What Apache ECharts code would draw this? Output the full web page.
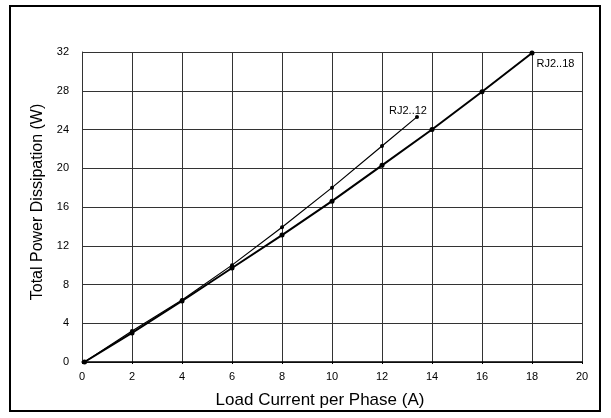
<!DOCTYPE html>
<html><head><meta charset="utf-8">
<script src="https://cdn.jsdelivr.net/npm/echarts@6/dist/echarts.min.js"></script>
<style>html,body{margin:0;padding:0;background:#fff}#c{width:611px;height:418px}</style>
</head><body><div id="c"></div>
<script>
const xTicks = [0,2,4,6,8,10,12,14,16,18,20];
const yTicks = [0,4,8,12,16,20,24,28,32];
const rj12X = [0.1, 2, 4, 6, 8, 10, 12, 13.4];
const rj12Y = [0, 3.2, 6.4, 10.0, 13.9, 18.0, 22.3, 25.3];
const rj18X = [0.1, 2, 4, 6, 8, 10, 12, 14, 16, 18];
const rj18Y = [0, 3.0, 6.3, 9.7, 13.1, 16.6, 20.3, 24.0, 27.9, 31.9];
const names = ['RJ2..12', 'RJ2..18'];

function mk(xs, ys, name, lbl){
  return xs.map((x,i)=>{
    const d = {value:[x, ys[i]]};
    if(i===xs.length-1){ d.label = Object.assign({show:true, formatter:name, color:'#000', fontSize:11, fontFamily:'Liberation Sans'}, lbl); }
    return d;
  });
}
const font = 'Liberation Sans';
const chart = echarts.init(document.getElementById('c'), null, {renderer:'canvas'});
chart.setOption({
  animation:false,
  backgroundColor:'#fff',
  graphic:[{type:'rect', shape:{x:10,y:6,width:590,height:405}, style:{fill:'none', stroke:'#000', lineWidth:2}, silent:true}],
  grid:{left:82, right:29, top:52, bottom:56},
  xAxis:{type:'value', min:0, max:20, interval:2,
    name:'Load Current per Phase (A)', nameLocation:'middle', nameGap:30,
    nameTextStyle:{fontFamily:font, fontSize:17, color:'#000', padding:[0,24,0,0]},
    axisLine:{show:true, lineStyle:{color:'#000', width:1.5}},
    axisTick:{show:true, length:2, lineStyle:{color:'#000'}},
    axisLabel:{fontFamily:font, fontSize:11, color:'#000', margin:9, formatter:v=>xTicks.includes(v)?String(v):''},
    splitLine:{show:true, lineStyle:{color:'#333', width:1}}
  },
  yAxis:{type:'value', min:0, max:32, interval:4,
    name:'Total Power Dissipation (W)', nameLocation:'middle', nameGap:35,
    nameTextStyle:{fontFamily:font, fontSize:16, color:'#000', padding:[0,0,0,10]},
    axisLine:{show:true, lineStyle:{color:'#333', width:1}},
    axisTick:{show:false},
    axisLabel:{fontFamily:font, fontSize:11, color:'#000', margin:13, formatter:v=>yTicks.includes(v)?String(v):''},
    splitLine:{show:true, lineStyle:{color:'#333', width:1}}
  },
  series:[
    {type:'line', name:names[0], data:mk(rj12X, rj12Y, names[0], {position:'inside', offset:[-9,-6]}),
     symbol:'circle', symbolSize:4, itemStyle:{color:'#000'}, lineStyle:{color:'#000', width:1.2}, z:3},
    {type:'line', name:names[1], data:mk(rj18X, rj18Y, names[1], {position:'right', distance:2, offset:[0,11]}),
     symbol:'circle', symbolSize:5, itemStyle:{color:'#000'}, lineStyle:{color:'#000', width:2}, z:4}
  ]
});
</script></body></html>
